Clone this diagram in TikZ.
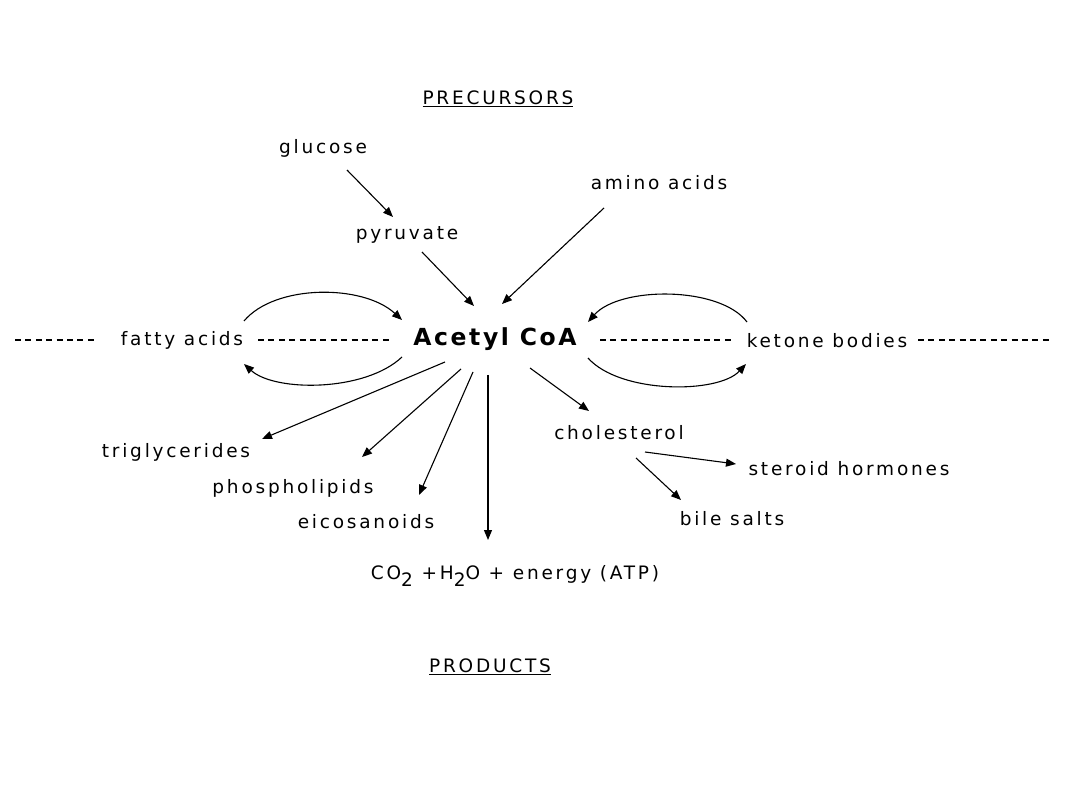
\documentclass[tikz,border=0pt]{standalone}
\usepackage{fontspec}
\setmainfont{DejaVu Sans}[LetterSpace=15]
\newfontfamily\acfont{DejaVu Sans}[LetterSpace=11]
\usetikzlibrary{arrows.meta}
\begin{document}
\begin{tikzpicture}[x=1pt,y=-1pt,
  lbl/.style={inner sep=0pt, font=\fontsize{18.5}{22}\selectfont},
  arr/.style={line width=1.1pt, -{Triangle[length=10pt,width=8pt]}},
  dsh/.style={line width=1.1pt, dash pattern=on 6pt off 4.4pt}]
\useasboundingbox[fill=white] (0,0) rectangle (1080,810);
% nodes
\node[lbl] (prec) at (498,99) {\underline{PRECURSORS}};
\node[lbl] (gluc) at (323,148) {glucose};
\node[lbl] (amino) at (659,183) {amino acids};
\node[lbl] (pyr) at (407,235) {pyruvate};
\node[inner sep=0pt, font=\acfont\bfseries\fontsize{23.5}{27}\selectfont] (acoa) at (495,339) {Acetyl CoA};
\node[lbl] (fa) at (182,340) {fatty acids};
\node[lbl] (kb) at (827,341) {ketone bodies};
\node[lbl] (trig) at (176,452) {triglycerides};
\node[lbl] (phos) at (293,488) {phospholipids};
\node[lbl] (eico) at (366,522) {eicosanoids};
\node[lbl] (chol) at (619,433) {cholesterol};
\node[lbl] (ster) at (849,469) {steroid hormones};
\node[lbl] (bile) at (732,519) {bile salts};
\node[lbl] (co2) at (515,576) {CO\raisebox{-7pt}{2} +H\raisebox{-7pt}{2}O + energy (ATP)};
\node[lbl] (prod) at (490,667) {\underline{PRODUCTS}};
\coordinate (lend) at (15,340);
\coordinate (rend) at (1050,340);
% dashed line
\draw[dsh] (lend) -- ([shift={(-84,0)}]fa.center);
\draw[dsh] ([shift={(76,0)}]fa.center) -- ([shift={(-104,1)}]acoa.center);
\draw[dsh] ([shift={(105,1)}]acoa.center) -- ([shift={(-92,-1)}]kb.center);
\draw[dsh] ([shift={(91,-1)}]kb.center) -- (rend);
% precursors
\draw[arr] ([shift={(24,22)}]gluc.center) -- ([shift={(-14,-18)}]pyr.center);
\draw[arr] ([shift={(15,17)}]pyr.center) -- ([shift={(-21,-33)}]acoa.center);
\draw[arr] ([shift={(-55,25)}]amino.center) -- ([shift={(7,-35)}]acoa.center);
% cycles
\draw[arr] ([shift={(62,-19)}]fa.center) .. controls (275,284) and (363,284) .. ([shift={(-93,-19)}]acoa.center);
\draw[arr] ([shift={(-93,18)}]acoa.center) .. controls (365,392) and (275,392) .. ([shift={(62,24)}]fa.center);
\draw[arr] ([shift={(-80,-19)}]kb.center) .. controls (720,286) and (620,286) .. ([shift={(93,-17)}]acoa.center);
\draw[arr] ([shift={(93,19)}]acoa.center) .. controls (620,394) and (718,394) .. ([shift={(-81,23)}]kb.center);
% products
\draw[arr] ([shift={(-50,23)}]acoa.center) -- ([shift={(86,-13)}]trig.center);
\draw[arr] ([shift={(-34,30)}]acoa.center) -- ([shift={(69,-31)}]phos.center);
\draw[arr] ([shift={(-22,33)}]acoa.center) -- ([shift={(53,-27)}]eico.center);
\draw[arr] ([shift={(-7,36)}]acoa.center) -- ([shift={(-27,-36)}]co2.center);
\draw[arr] ([shift={(35,29)}]acoa.center) -- ([shift={(-30,-22)}]chol.center);
\draw[arr] ([shift={(26,19)}]chol.center) -- ([shift={(-113,-5)}]ster.center);
\draw[arr] ([shift={(17,25)}]chol.center) -- ([shift={(-51,-19)}]bile.center);
\end{tikzpicture}
\end{document}
